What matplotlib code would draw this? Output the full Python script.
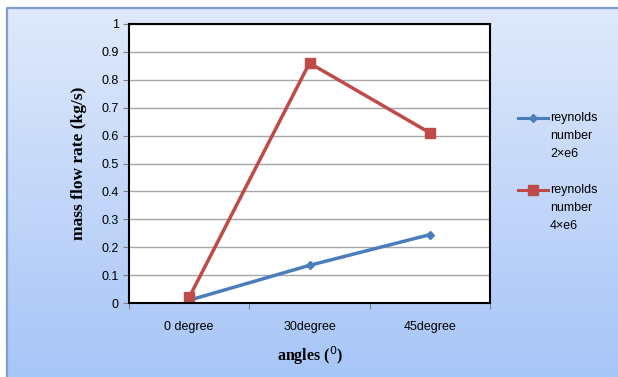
import numpy as np
import matplotlib.pyplot as plt
from matplotlib.lines import Line2D

categories = ["0 degree", "30degree", "45degree"]
re_2e6 = [0.01, 0.135, 0.245]
re_4e6 = [0.02, 0.86, 0.61]
labels = [["reynolds", "number", "2\u00d7e6"], ["reynolds", "number", "4\u00d7e6"]]

W, H = 618, 377
fig = plt.figure(figsize=(W / 100, H / 100), dpi=100)
fig.patch.set_facecolor("white")

# chart area: gradient, light at top and darker blue at the bottom,
# running off the right and bottom edges of the picture
bg = fig.add_axes([0, 0, 1, 1], zorder=-10)
grad = np.linspace(0, 1, 256).reshape(-1, 1)
top = np.array([0.875, 0.914, 0.984])
bot = np.array([0.65, 0.77, 0.97])
img = top + (bot - top) * grad[:, :, None]
bg.imshow(img, aspect="auto", extent=[7, W + 40, H + 10, 8])
bg.plot([6.5, 6.5, W + 40], [H + 10, 7.5, 7.5], color="#7f9fcf", lw=1.6)
bg.set_xlim(0, W)
bg.set_ylim(H, 0)
bg.axis("off")

ax = fig.add_axes([129 / W, 1 - 303 / H, (490 - 129) / W, (303 - 24) / H])
ax.set_facecolor("white")
x = np.arange(len(categories))
ax.plot(x, re_2e6, color="#4a7ebb", lw=2.5, marker="D", ms=4.5)
ax.plot(x, re_4e6, color="#be4b48", lw=2.5, marker="s", ms=7.5)

ax.set_xlim(-0.5, 2.5)
ax.set_ylim(0, 1)
ax.set_yticks(np.arange(0, 1.01, 0.1))
ax.set_yticklabels(["0", "0.1", "0.2", "0.3", "0.4", "0.5", "0.6", "0.7", "0.8", "0.9", "1"])
ax.set_xticks([-0.5, 0.5, 1.5, 2.5])
ax.set_xticklabels([])
ax.tick_params(axis="x", length=4, direction="out", color="#808080")
ax.tick_params(axis="y", length=4, direction="out", color="#808080", labelsize=9)
for i, c in enumerate(categories):
    ax.text(i, -0.085, c, ha="center", va="center", fontsize=9,
            family="Liberation Sans")
for lbl in ax.get_yticklabels():
    lbl.set_family("Liberation Sans")
ax.grid(axis="y", color="#a6a6a6", lw=1)
ax.set_axisbelow(True)
for s in ax.spines.values():
    s.set_color("black")
    s.set_linewidth(1.5)

ax.set_ylabel("mass flow rate (kg/s)", family="Liberation Serif",
              fontweight="bold", fontsize=12.5, labelpad=10)
fig.text(310 / W, 1 - 356 / H, "angles ($^{0}$)", family="Liberation Serif",
         fontweight="bold", fontsize=11.5, ha="center", va="center")

# legend: handle beside the first line of each label
colors = ["#4a7ebb", "#be4b48"]
markers = ["D", "s"]
sizes = [4.5, 7.5]
for k, y0 in enumerate([118, 190]):
    fig.add_artist(Line2D([518 / W, 548 / W], [1 - y0 / H] * 2, color=colors[k],
                          lw=2.2, transform=fig.transFigure))
    fig.add_artist(Line2D([533 / W], [1 - y0 / H], color=colors[k], marker=markers[k],
                          ms=sizes[k], transform=fig.transFigure))
    for j, t in enumerate(labels[k]):
        fig.text(550 / W, 1 - (y0 + 18 * j) / H, t, fontsize=9,
                 family="Liberation Sans", va="center", ha="left")

fig.savefig("out.png", dpi=100)
